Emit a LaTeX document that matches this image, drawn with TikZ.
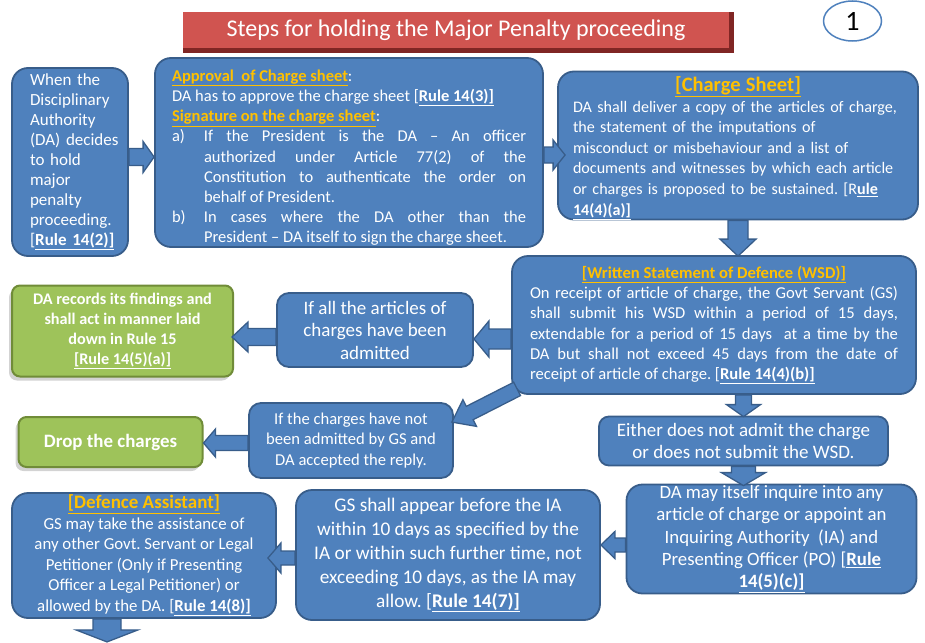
\documentclass[tikz,border=0pt]{standalone}
\usepackage{fontspec}
\setmainfont{Carlito}
\usetikzlibrary{calc,shapes.geometric,shadows}
\definecolor{boxblue}{RGB}{79,129,189}
\definecolor{boxedge}{RGB}{56,93,138}
\definecolor{ttlorange}{RGB}{255,192,0}
\definecolor{grfill}{RGB}{158,195,90}
\definecolor{gredge}{RGB}{112,140,56}
\definecolor{redface}{RGB}{208,84,80}
\definecolor{reddark}{RGB}{128,38,36}
\newcommand\ttl[1]{\textcolor{ttlorange}{\underline{\textbf{#1}}}}
\newcommand\rul[1]{\underline{\textbf{#1}}}
\newcommand\blockarr[5]{%
  \coordinate (bah) at ($(#2)!#5!(#1)$);
  \draw[arrowbox] ($(#1)!#3!90:(#2)$) -- ($(bah)!#3!-90:(#1)$) -- ($(bah)!#4!-90:(#1)$) -- (#2) -- ($(bah)!#4!90:(#1)$) -- ($(bah)!#3!90:(#1)$) -- ($(#1)!#3!-90:(#2)$) -- cycle;}
\tikzset{
  box/.style={draw=boxedge, fill=boxblue, line width=1.8pt, rounded corners=16pt, text=white, inner sep=0pt, anchor=center,
    execute at begin node={\parindent=0pt\parskip=0pt\hyphenpenalty=10000\frenchspacing}},
  greenbox/.style={draw=gredge, fill=grfill, line width=2pt, rounded corners=8pt, text=white, inner sep=0pt, anchor=center,
    drop shadow={shadow xshift=-3pt, shadow yshift=-4pt, opacity=0.35}},
  arrowbox/.style={fill=boxblue, draw=boxedge, line width=1.3pt, line join=miter},
}
\begin{document}
\frenchspacing
\begin{tikzpicture}[x=1pt,y=-1pt]
\useasboundingbox (0,0) rectangle (925,642);
% title
\filldraw[fill=reddark, draw=reddark, line width=0.8pt] (183,12) rectangle (733,52);
\node[fill=redface, minimum width=546pt, minimum height=36pt, inner sep=0pt, text=white,
  font=\fontsize{24}{28}\selectfont] (T) at (456,30) {Steps for holding the Major Penalty proceeding};
\node[ellipse, draw=boxblue, line width=1.5pt, fill=white, minimum width=58pt, minimum height=40pt,
  inner sep=0pt, font=\fontsize{28}{30}\selectfont] (N) at (852.5,21) {1};
% boxes
\node[box, minimum width=116pt, minimum height=188pt, text width=80pt, align=left,
  font=\fontsize{17}{20}\selectfont] (A) at (70,162)
  {When~the\\ Disciplinary\\ Authority\\ (DA)~decides\\ to~hold\\ major\\ penalty\\ proceeding.\\ {[}\rul{Rule~14(2)]}};
\node[box, minimum width=388pt, minimum height=189pt, text width=354pt, align=justify,
  font=\fontsize{16.5}{20.2}\selectfont] (B) at (349,152.5)
  {\rule{0pt}{22pt}\ttl{Approval\ \ of Charge sheet}:\par
   DA has to approve the charge sheet {[}\rul{Rule 14(3)]}\par
   \ttl{Signature on the charge sheet}:\par
   \hangindent=32pt\hangafter=1 \makebox[32pt][l]{a)}If the President is the DA – An officer\linebreak authorized under Article 77(2) of the\linebreak Constitution to authenticate the order on\linebreak behalf of President.\par
   \hangindent=32pt\hangafter=1 \makebox[32pt][l]{b)}In cases where the DA other than the\linebreak President – DA itself to sign the charge sheet.\par};
\node[box, minimum width=360pt, minimum height=145pt, text width=330pt, align=left,
  font=\fontsize{16.1}{20.6}\selectfont] (C) at (738,145.5)
  {\centerline{\rule{0pt}{20pt}\fontsize{20.5}{22}\selectfont\ttl{[Charge Sheet]}}
   DA shall deliver a copy of the articles of charge,\\ the statement of the imputations of\\ misconduct or misbehaviour and a list of\\ documents and witnesses by which each article\\ or charges is proposed to be sustained. {[}R\rul{ule}\\ \rul{14(4)(a)]}};
\node[box, minimum width=404pt, minimum height=138pt, text width=368pt, align=justify,
  font=\fontsize{16.6}{20.3}\selectfont] (D) at (714,325)
  {\centerline{\ttl{[Written Statement of Defence (WSD)]}}
   On receipt of article of charge, the Govt Servant (GS)\linebreak shall submit his WSD within a period of 15 days,\linebreak extendable for a period of 15 days\ \ at a time by the\linebreak DA but shall not exceed 45 days from the date of\linebreak receipt of article of charge. {[}\rul{Rule 14(4)(b)]}\par};
\node[box, rounded corners=12pt, minimum width=196pt, minimum height=74pt, align=center,
  font=\fontsize{19}{22.5}\selectfont] (E) at (375,330)
  {If all the articles of\\ charges have been\\ admitted};
\node[greenbox, minimum width=221pt, minimum height=91pt, align=center,
  font=\fontsize{16.2}{20}\selectfont\bfseries] (F) at (122.5,331)
  {DA records its findings and\\ shall act in manner laid\\ down in Rule 15\\ \underline{[Rule 14(5)(a)]}};
\node[box, rounded corners=12pt, minimum width=204pt, minimum height=75pt, align=center,
  font=\fontsize{16.6}{20.5}\selectfont] (G) at (351,440.5)
  {If the charges have not\\ been admitted by GS and\\ DA accepted the reply.};
\node[greenbox, minimum width=184pt, minimum height=50pt,
  font=\fontsize{18.9}{22}\selectfont\bfseries] (H) at (110.5,442) {Drop the charges};
\node[box, rounded corners=10pt, minimum width=289pt, minimum height=49pt, align=center,
  font=\fontsize{19}{22}\selectfont] (I) at (743.5,441)
  {Either does not admit the charge\\ or does not submit the WSD.};
\node[box, minimum width=290pt, minimum height=109pt, align=center,
  font=\fontsize{18.8}{22.4}\selectfont] (J) at (771.5,539)
  {DA may itself inquire into any\\ article of charge or appoint an\\ Inquiring Authority\ \ (IA) and\\ Presenting Officer (PO) {[}\rul{Rule}\\ \rul{14(5)(c)]}};
\node[box, minimum width=304pt, minimum height=130pt, align=center,
  font=\fontsize{19.3}{24}\selectfont] (K) at (448,555)
  {GS shall appear before the IA\\ within 10 days as specified by the\\ IA or within such further time, not\\ exceeding 10 days, as the IA may\\ allow. {[}\rul{Rule 14(7)]}};
\node[box, minimum width=264pt, minimum height=125pt, align=center,
  font=\fontsize{16.8}{20.5}\selectfont] (L) at (144,555.5)
  {{\fontsize{19}{20.5}\selectfont\ttl{[Defence Assistant]}}\\ GS may take the assistance of\\ any other Govt. Servant or Legal\\ Petitioner (Only if Presenting\\ Officer a Legal Petitioner) or\\ allowed by the DA. {[}\rul{Rule 14(8)]}};
% connector end points
\coordinate (ab1) at (A.east |- 0,157);
\coordinate (ab2) at (B.west |- 0,157);
\coordinate (bc1) at (B.east |- 0,155);
\coordinate (bc2) at ($(C.west |- 0,155)+(8,0)$);
\coordinate (cd1) at (C.south);
\coordinate (cd2) at ($(C.south |- D.north)+(0,1)$);
\coordinate (de1) at (D.west |- 0,339);
\coordinate (de2) at (E.east |- 0,339);
\coordinate (ef1) at (E.west |- 0,337);
\coordinate (ef2) at ($(F.east |- 0,337)+(-2,0)$);
\coordinate (dg1) at ($(D.south west)+(6,-6)$);
\coordinate (dg2) at ($(G.north east)+(-2,20)$);
\coordinate (gh1) at (G.west |- 0,443);
\coordinate (gh2) at (H.east |- 0,443);
\coordinate (di1) at (D.south -| I.north);
\coordinate (di2) at ($(I.north)+(0,1)$);
\coordinate (ij1) at (I.south);
\coordinate (ij2) at ($(I.south |- J.north)+(0,2)$);
\coordinate (jk1) at (J.west |- 0,545);
\coordinate (jk2) at (K.east |- 0,545);
\coordinate (kl1) at (K.west |- 0,558);
\coordinate (kl2) at ($(L.east |- 0,558)+(-9,0)$);
\coordinate (ld1) at ($(L.south)+(-37,0)$);
\coordinate (ld2) at ($(L.south)+(-37,23)$);
% block arrows
\blockarr{ab1}{ab2}{8.5pt}{15.5pt}{11pt}
\blockarr{bc1}{bc2}{8pt}{15pt}{12pt}
\blockarr{cd1}{cd2}{10pt}{18pt}{17pt}
\blockarr{de1}{de2}{10pt}{18pt}{15pt}
\blockarr{ef1}{ef2}{8.5pt}{15pt}{16pt}
\blockarr{dg1}{dg2}{7.5pt}{15pt}{20pt}
\blockarr{gh1}{gh2}{7.5pt}{14pt}{12pt}
\blockarr{di1}{di2}{8pt}{17pt}{12pt}
\blockarr{ij1}{ij2}{12pt}{22pt}{13pt}
\blockarr{jk1}{jk2}{7pt}{13.5pt}{14pt}
\blockarr{kl1}{kl2}{7pt}{15pt}{13pt}
\blockarr{ld1}{ld2}{14pt}{31pt}{12pt}
\end{tikzpicture}
\end{document}
